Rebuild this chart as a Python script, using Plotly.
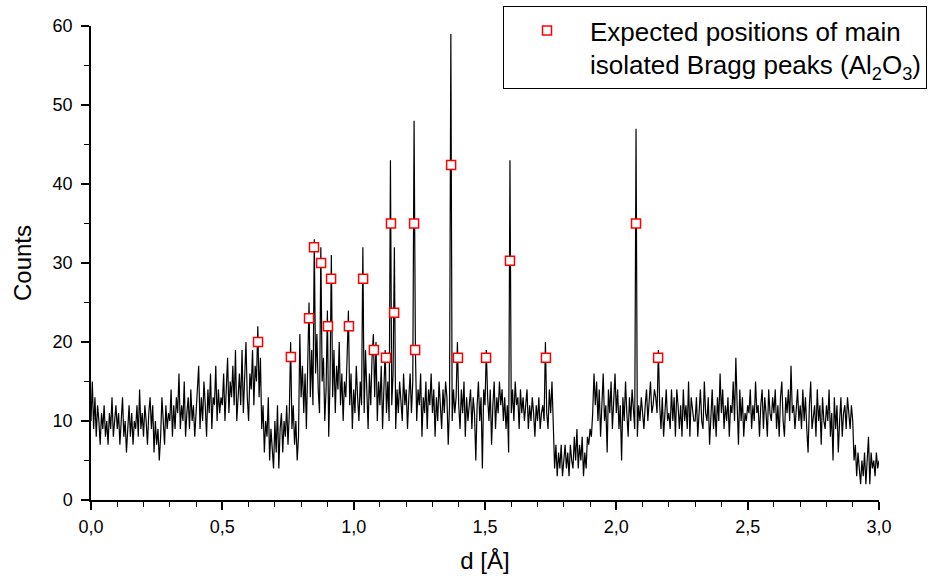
import numpy as np
import plotly.graph_objects as go

# measured counts, one value every 0.005 Å starting at d = 0
d_step = 0.005
counts_rows = [
    [10, 15, 9, 13, 8, 12, 10, 7, 11, 9, 12, 8, 10, 7, 11, 9, 13, 8, 10, 12],
    [9, 11, 7, 10, 13, 8, 10, 6, 9, 12, 8, 11, 7, 10, 9, 12, 8, 14, 9, 11],
    [8, 12, 10, 7, 11, 13, 9, 12, 6, 10, 7, 9, 5, 8, 13, 10, 7, 12, 9, 11],
    [10, 14, 8, 12, 9, 13, 11, 16, 9, 12, 10, 15, 8, 11, 13, 9, 14, 10, 12, 8],
    [11, 14, 17, 9, 13, 10, 15, 12, 8, 14, 11, 16, 9, 13, 12, 17, 10, 14, 11, 13],
    [12, 16, 10, 14, 18, 11, 15, 13, 17, 12, 19, 10, 14, 16, 12, 19, 11, 15, 20, 13],
    [10, 16, 14, 19, 12, 17, 15, 22, 13, 18, 9, 12, 6, 10, 8, 13, 5, 9, 7, 4],
    [10, 6, 12, 4, 9, 11, 6, 10, 8, 12, 7, 11, 20, 9, 12, 7, 10, 5, 8, 21],
    [13, 17, 11, 16, 9, 18, 25, 13, 19, 12, 33, 16, 21, 14, 11, 32, 15, 18, 10, 14],
    [24, 8, 15, 31, 13, 19, 11, 17, 14, 20, 12, 16, 10, 15, 13, 18, 24, 12, 16, 9],
    [14, 11, 17, 13, 10, 15, 12, 32, 11, 19, 14, 9, 16, 12, 18, 21, 13, 20, 10, 15],
    [12, 17, 9, 14, 19, 11, 15, 10, 43, 12, 16, 32, 9, 14, 11, 15, 13, 10, 16, 12],
    [14, 9, 13, 16, 11, 15, 48, 19, 10, 14, 12, 16, 8, 13, 11, 15, 9, 14, 12, 16],
    [11, 14, 8, 13, 10, 15, 12, 9, 14, 11, 15, 13, 7, 12, 59, 10, 14, 11, 13, 20],
    [12, 9, 14, 11, 15, 8, 13, 10, 12, 14, 9, 13, 11, 5, 12, 15, 10, 13, 4, 14],
    [12, 19, 13, 10, 14, 7, 12, 15, 9, 13, 11, 15, 12, 14, 10, 13, 9, 12, 6, 43],
    [11, 14, 10, 15, 12, 13, 9, 14, 11, 13, 10, 12, 14, 9, 12, 10, 13, 11, 8, 12],
    [10, 13, 9, 11, 12, 10, 20, 11, 9, 14, 11, 15, 8, 4, 7, 3, 6, 4, 7, 3],
    [5, 7, 4, 6, 3, 7, 5, 4, 8, 5, 9, 4, 7, 5, 8, 3, 6, 4, 8, 7],
    [9, 8, 11, 16, 12, 15, 10, 14, 8, 13, 16, 10, 12, 6, 14, 11, 15, 9, 13, 16],
    [11, 14, 9, 12, 5, 13, 10, 15, 11, 8, 13, 10, 14, 12, 9, 47, 8, 12, 10, 13],
    [11, 9, 12, 14, 10, 13, 15, 11, 12, 14, 13, 11, 19, 12, 9, 13, 8, 11, 14, 10],
    [11, 9, 14, 10, 13, 8, 14, 12, 9, 12, 8, 14, 10, 12, 9, 15, 8, 13, 11, 10],
    [10, 13, 8, 12, 14, 10, 9, 15, 11, 10, 13, 7, 11, 14, 9, 12, 8, 13, 10, 16],
    [11, 14, 9, 12, 10, 13, 8, 12, 11, 15, 10, 18, 12, 7, 14, 10, 13, 8, 11, 10],
    [12, 11, 14, 9, 12, 10, 15, 11, 12, 8, 12, 14, 9, 13, 11, 8, 14, 11, 10, 13],
    [11, 14, 9, 12, 8, 13, 15, 10, 8, 13, 11, 14, 10, 17, 11, 12, 9, 12, 14, 10],
    [12, 9, 14, 10, 13, 9, 6, 12, 15, 9, 11, 12, 8, 14, 10, 12, 7, 13, 10, 9],
    [12, 10, 14, 8, 11, 5, 13, 9, 12, 6, 10, 13, 8, 11, 12, 9, 13, 11, 9, 12],
    [10, 5, 7, 3, 6, 4, 2, 5, 3, 6, 2, 5, 8, 2, 6, 4, 5, 3, 6, 4],
    [5],
]

# expected Al2O3 Bragg peak positions (marker placement)
peak_d = [0.636, 0.761, 0.830, 0.849, 0.876, 0.902, 0.914, 0.982, 1.036, 1.077, 1.123,
          1.142, 1.154, 1.230, 1.234, 1.371, 1.397, 1.504, 1.595, 1.732, 2.075, 2.159]
peak_counts = [20.0, 18.1, 23.0, 32.0, 30.0, 22.0, 28.0, 22.0, 28.0, 19.0, 18.0,
               35.0, 23.7, 35.0, 19.0, 42.4, 18.0, 18.0, 30.3, 18.0, 35.0, 18.0]

x_tickvals = [0, 0.5, 1.0, 1.5, 2.0, 2.5, 3.0]
x_ticktext = ["0,0", "0,5", "1,0", "1,5", "2,0", "2,5", "3,0"]

counts = [v for row in counts_rows for v in row]
d = np.round(np.arange(len(counts)) * d_step, 3)

FONT = "Liberation Sans, Arial, sans-serif"

fig = go.Figure()
fig.add_trace(go.Scatter(
    x=d, y=counts, mode="lines",
    line=dict(color="black", width=1.2),
    showlegend=False, hoverinfo="skip",
))
fig.add_trace(go.Scatter(
    x=peak_d, y=peak_counts, mode="markers",
    marker=dict(symbol="square", size=9, color="white",
                line=dict(color="#ff0000", width=1.5)),
    name="Expected positions of main<br>isolated Bragg peaks (Al<sub>2</sub>O<sub>3</sub>)",
))

axis_common = dict(
    showline=True, linecolor="black", linewidth=1.5,
    ticks="outside", ticklen=8, tickwidth=1.5, tickcolor="black",
    showgrid=False, zeroline=False, mirror=False, automargin=False,
    tickfont=dict(family=FONT, size=18, color="black"),
    title_font=dict(family=FONT, size=24, color="black"),
)

fig.update_layout(
    width=950, height=576,
    margin=dict(l=91, r=71, t=26, b=76, autoexpand=False),
    paper_bgcolor="white", plot_bgcolor="white",
    font=dict(family=FONT, color="black"),
    xaxis=dict(
        range=[0, 3.0], tickvals=x_tickvals, ticktext=x_ticktext,
        title=dict(text="d [Å]", standoff=16),
        ticklabelstandoff=2,
        minor=dict(ticks="outside", ticklen=5, tickwidth=1.2, tickcolor="black", dtick=0.1),
        **axis_common,
    ),
    yaxis=dict(
        range=[0, 60], dtick=10,
        title=dict(text="Counts", standoff=14),
        ticklabelstandoff=5,
        minor=dict(ticks="outside", ticklen=5, tickwidth=1.2, tickcolor="black", dtick=5),
        **axis_common,
    ),
    legend=dict(
        x=(503 - 91) / 788, y=(500 - 6) / 474, xanchor="left", yanchor="top",
        bgcolor="white", bordercolor="black", borderwidth=1,
        font=dict(family=FONT, size=26, color="black"),
        valign="top", itemwidth=76,
    ),
)

fig.write_html("out.html", config={"displayModeBar": False},
               post_script="document.body.style.margin='0';")
